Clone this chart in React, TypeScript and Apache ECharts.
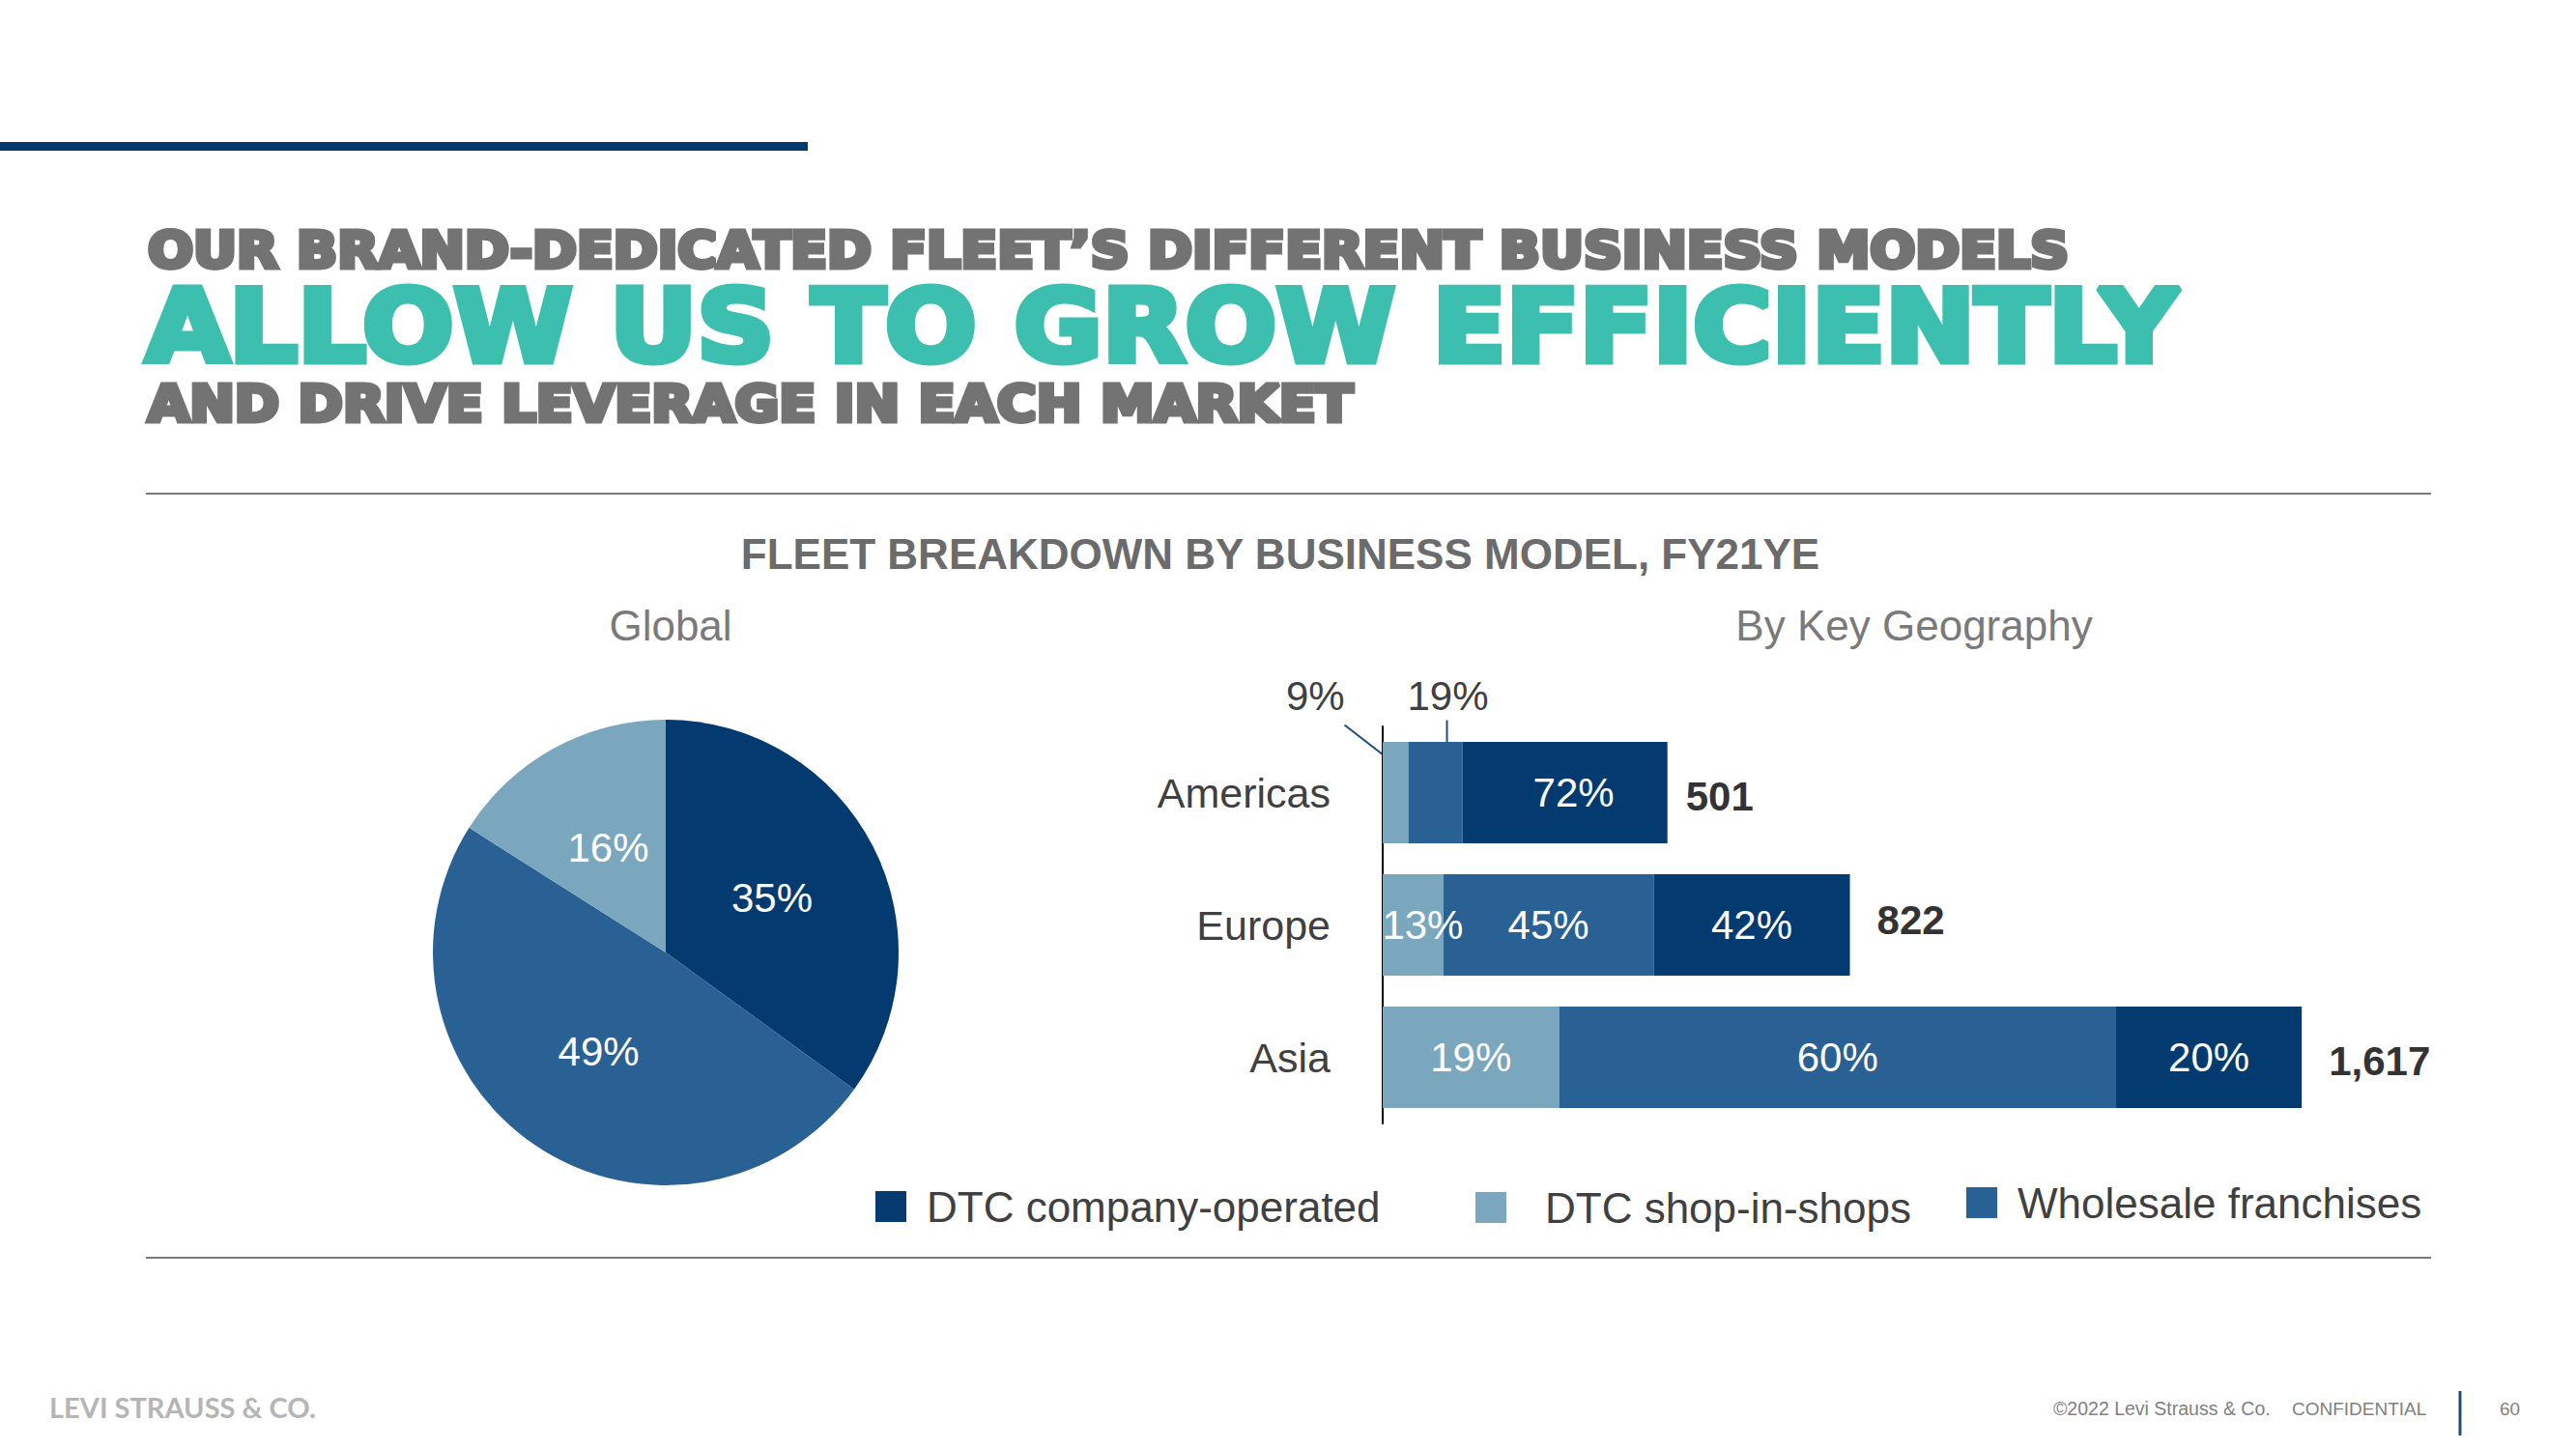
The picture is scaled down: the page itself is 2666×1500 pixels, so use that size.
import React, { useEffect, useRef } from "react";
import * as echarts from "echarts";

// ---- data ----
const regions = ["Americas", "Europe", "Asia"];
const regionTotals = [501, 822, 1617];
const shopInShopsPct = [9, 13, 19];
const wholesalePct = [19, 45, 60];
const companyOperatedPct = [72, 42, 20];

const globalNames = ["DTC company-operated", "Wholesale franchises", "DTC shop-in-shops"];
const globalPct = [35, 49, 16];

const legendNames = ["DTC company-operated", "DTC shop-in-shops", "Wholesale franchises"];

const COLORS: Record<string, string> = {
  "DTC company-operated": "#033A6F",
  "Wholesale franchises": "#2A6194",
  "DTC shop-in-shops": "#7AA6BE",
};

const FONT = "'Liberation Sans', Arial, sans-serif";
const TITLE_FONT = "'DejaVu Sans', sans-serif";

export default function App() {
  const ref = useRef<HTMLDivElement>(null);

  useEffect(() => {
    if (!ref.current) return;
    const chart = echarts.init(ref.current, null, { renderer: "svg" });

    const sums = regions.map((_, i) => shopInShopsPct[i] + wholesalePct[i] + companyOperatedPct[i]);
    const seg = (pcts: number[], i: number) => (regionTotals[i] * pcts[i]) / sums[i];

    const insideLabel = {
      show: true,
      position: "inside",
      color: "#ffffff",
      fontSize: 42,
      fontFamily: FONT,
    };

    const lightData = regions.map((r, i) => {
      const item: any = { value: seg(shopInShopsPct, i), pct: shopInShopsPct[i] };
      if (i === 0) {
        item.label = { position: "top", distance: 27, offset: [-83, 0], color: "#404040" };
      } else if (i === 1) {
        item.label = { offset: [10, 0] };
      }
      return item;
    });
    const wholesaleData = regions.map((r, i) => {
      const item: any = { value: seg(wholesalePct, i), pct: wholesalePct[i] };
      if (i === 0) {
        item.label = { position: "top", distance: 27, offset: [13, 0], color: "#404040" };
      }
      return item;
    });
    const companyData = regions.map((r, i) => {
      const item: any = { value: seg(companyOperatedPct, i), pct: companyOperatedPct[i] };
      if (i === 0) item.label = { offset: [9, 0] };
      return item;
    });
    const totalData = regions.map((r, i) => ({
      value: 0,
      total: regionTotals[i],
      label: { offset: [i === 0 ? 0 : 9, i === 0 ? 4 : i === 1 ? -5 : 4] },
    }));

    const pctFormatter = (p: any) => `${p.data.pct}%`;

    const heavy = (fill: string, lw: number) => ({
      fontFamily: TITLE_FONT,
      fontWeight: "bold",
      fill,
      stroke: fill,
      lineWidth: lw,
      align: "left",
      verticalAlign: "middle",
    });

    const baseGraphic: any[] = [
      { type: "rect", id: "topbar", shape: { x: 0, y: 147, width: 836, height: 9 }, style: { fill: "#033A6F" } },
      {
        type: "text", id: "t1", x: 153, y: 259, scaleX: 1.065,
        style: { text: "OUR BRAND-DEDICATED FLEET’S DIFFERENT BUSINESS MODELS", fontSize: 52, lineHeight: 48, ...heavy("#737373", 5) },
      },
      {
        type: "text", id: "t2", x: 151, y: 338, scaleX: 1.07,
        style: { text: "ALLOW US TO GROW EFFICIENTLY", fontSize: 104, lineHeight: 92, ...heavy("#3CBFAE", 7) },
      },
      {
        type: "text", id: "t3", x: 153, y: 418, scaleX: 1.073,
        style: { text: "AND DRIVE LEVERAGE IN EACH MARKET", fontSize: 52, lineHeight: 48, ...heavy("#737373", 5) },
      },
      { type: "line", id: "rule1", shape: { x1: 151, y1: 511, x2: 2516, y2: 511 }, style: { stroke: "#7a7a7a", lineWidth: 2 } },
      { type: "line", id: "rule2", shape: { x1: 151, y1: 1302, x2: 2516, y2: 1302 }, style: { stroke: "#7a7a7a", lineWidth: 2 } },
      {
        type: "text", id: "ct", x: 1325, y: 573,
        style: { text: "FLEET BREAKDOWN BY BUSINESS MODEL, FY21YE", fontFamily: FONT, fontWeight: "bold", fontSize: 44, fill: "#6b6b6b", align: "center", verticalAlign: "middle" },
      },
      {
        type: "text", id: "glob", x: 694, y: 647,
        style: { text: "Global", fontFamily: FONT, fontSize: 44, fill: "#7a7a7a", align: "center", verticalAlign: "middle" },
      },
      {
        type: "text", id: "geo", x: 1981, y: 647,
        style: { text: "By Key Geography", fontFamily: FONT, fontSize: 44, fill: "#7a7a7a", align: "center", verticalAlign: "middle" },
      },
      {
        type: "text", id: "logo", x: 51, y: 1456,
        style: { text: "LEVI STRAUSS & CO.", fontFamily: "Lato, sans-serif", fontWeight: "bold", fontSize: 29, fill: "#b5b5b5", align: "left", verticalAlign: "middle" },
      },
      {
        type: "text", id: "copy", x: 2125, y: 1458,
        style: { text: "©2022 Levi Strauss & Co.", fontFamily: FONT, fontSize: 19.5, fill: "#7f7f7f", align: "left", verticalAlign: "middle" },
      },
      {
        type: "text", id: "conf", x: 2372, y: 1458,
        style: { text: "CONFIDENTIAL", fontFamily: FONT, fontSize: 19, fill: "#7f7f7f", align: "left", verticalAlign: "middle" },
      },
      { type: "line", id: "divider", shape: { x1: 2546, y1: 1440, x2: 2546, y2: 1486 }, style: { stroke: "#1F4E79", lineWidth: 3 } },
      {
        type: "text", id: "page", x: 2587, y: 1458,
        style: { text: "60", fontFamily: FONT, fontSize: 19, fill: "#7f7f7f", align: "left", verticalAlign: "middle" },
      },
    ];

    const legendCommon = {
      orient: "horizontal",
      padding: 0,
      itemWidth: 32,
      itemHeight: 32,
      icon: "rect",
      selectedMode: false,
    };
    const legendText = (pad: number) => ({ fontSize: 44, color: "#404040", fontFamily: FONT, padding: [0, 0, 0, pad] });

    const option: any = {
      animation: false,
      backgroundColor: "#ffffff",
      legend: [
        { ...legendCommon, textStyle: legendText(16), data: [legendNames[0]], left: 906, top: 1227 },
        { ...legendCommon, textStyle: legendText(35), data: [legendNames[1]], left: 1527, top: 1228 },
        { ...legendCommon, textStyle: legendText(16), data: [legendNames[2]], left: 2035, top: 1223 },
      ],
      grid: { left: 1431, top: 752, width: 1000, height: 411, containLabel: false },
      xAxis: { type: "value", min: 0, max: 1700, show: false },
      yAxis: {
        type: "category",
        data: regions,
        inverse: true,
        axisLine: { show: true, lineStyle: { color: "#000000", width: 2 } },
        axisTick: { show: false },
        axisLabel: { fontSize: 43, color: "#404040", fontFamily: FONT, margin: 54 },
        splitLine: { show: false },
      },
      series: [
        {
          type: "pie",
          name: "Global",
          center: [689, 986],
          radius: 241,
          startAngle: 90,
          clockwise: true,
          silent: true,
          data: globalNames.map((n, i) => ({ name: n, value: globalPct[i], itemStyle: { color: COLORS[n] } })),
          label: { show: true, position: "inside", formatter: "{c}%", color: "#ffffff", fontSize: 42, fontFamily: FONT },
          labelLine: { show: false },
          itemStyle: { borderWidth: 0 },
        },
        {
          type: "bar",
          name: "DTC shop-in-shops",
          stack: "fleet",
          barWidth: 105,
          silent: true,
          itemStyle: { color: COLORS["DTC shop-in-shops"] },
          label: { ...insideLabel, formatter: pctFormatter },
          data: lightData,
        },
        {
          type: "bar",
          name: "Wholesale franchises",
          stack: "fleet",
          barWidth: 105,
          silent: true,
          itemStyle: { color: COLORS["Wholesale franchises"] },
          label: { ...insideLabel, formatter: pctFormatter },
          data: wholesaleData,
        },
        {
          type: "bar",
          name: "DTC company-operated",
          stack: "fleet",
          barWidth: 105,
          silent: true,
          itemStyle: { color: COLORS["DTC company-operated"] },
          label: { ...insideLabel, formatter: pctFormatter },
          data: companyData,
        },
        {
          type: "bar",
          name: "Total",
          stack: "fleet",
          barWidth: 105,
          silent: true,
          itemStyle: { color: "transparent" },
          label: {
            show: true,
            position: "right",
            distance: 19,
            color: "#333333",
            fontWeight: "bold",
            fontSize: 42,
            fontFamily: FONT,
            formatter: (p: any) => p.data.total.toLocaleString("en-US"),
          },
          data: totalData,
        },
      ],
      graphic: { elements: baseGraphic },
    };

    chart.setOption(option);

    // Leader lines for the small Americas segments, positioned from the axes
    const lightEnd = chart.convertToPixel({ gridIndex: 0 }, [lightData[0].value, regions[0]]) as number[];
    const medEnd = chart.convertToPixel({ gridIndex: 0 }, [lightData[0].value + wholesaleData[0].value, regions[0]]) as number[];
    const cy = lightEnd[1];
    const medMid = (lightEnd[0] + medEnd[0]) / 2 + 12;
    const leaders: any[] = [
      {
        type: "line", id: "lead9",
        shape: { x1: lightEnd[0] - 66, y1: cy - 70, x2: lightEnd[0] - 4, y2: cy - 22 },
        style: { stroke: "#1F4E79", lineWidth: 2 },
      },
      {
        type: "line", id: "lead19",
        shape: { x1: medMid, y1: cy - 75, x2: medMid, y2: cy - 27 },
        style: { stroke: "#1F4E79", lineWidth: 2 },
      },
    ];
    chart.setOption({ graphic: { elements: [...baseGraphic, ...leaders] } });

    return () => chart.dispose();
  }, []);

  return (
    <div
      ref={ref}
      style={{ position: "absolute", left: 0, top: 0, width: 2666, height: 1500, background: "#fff" }}
    />
  );
}
